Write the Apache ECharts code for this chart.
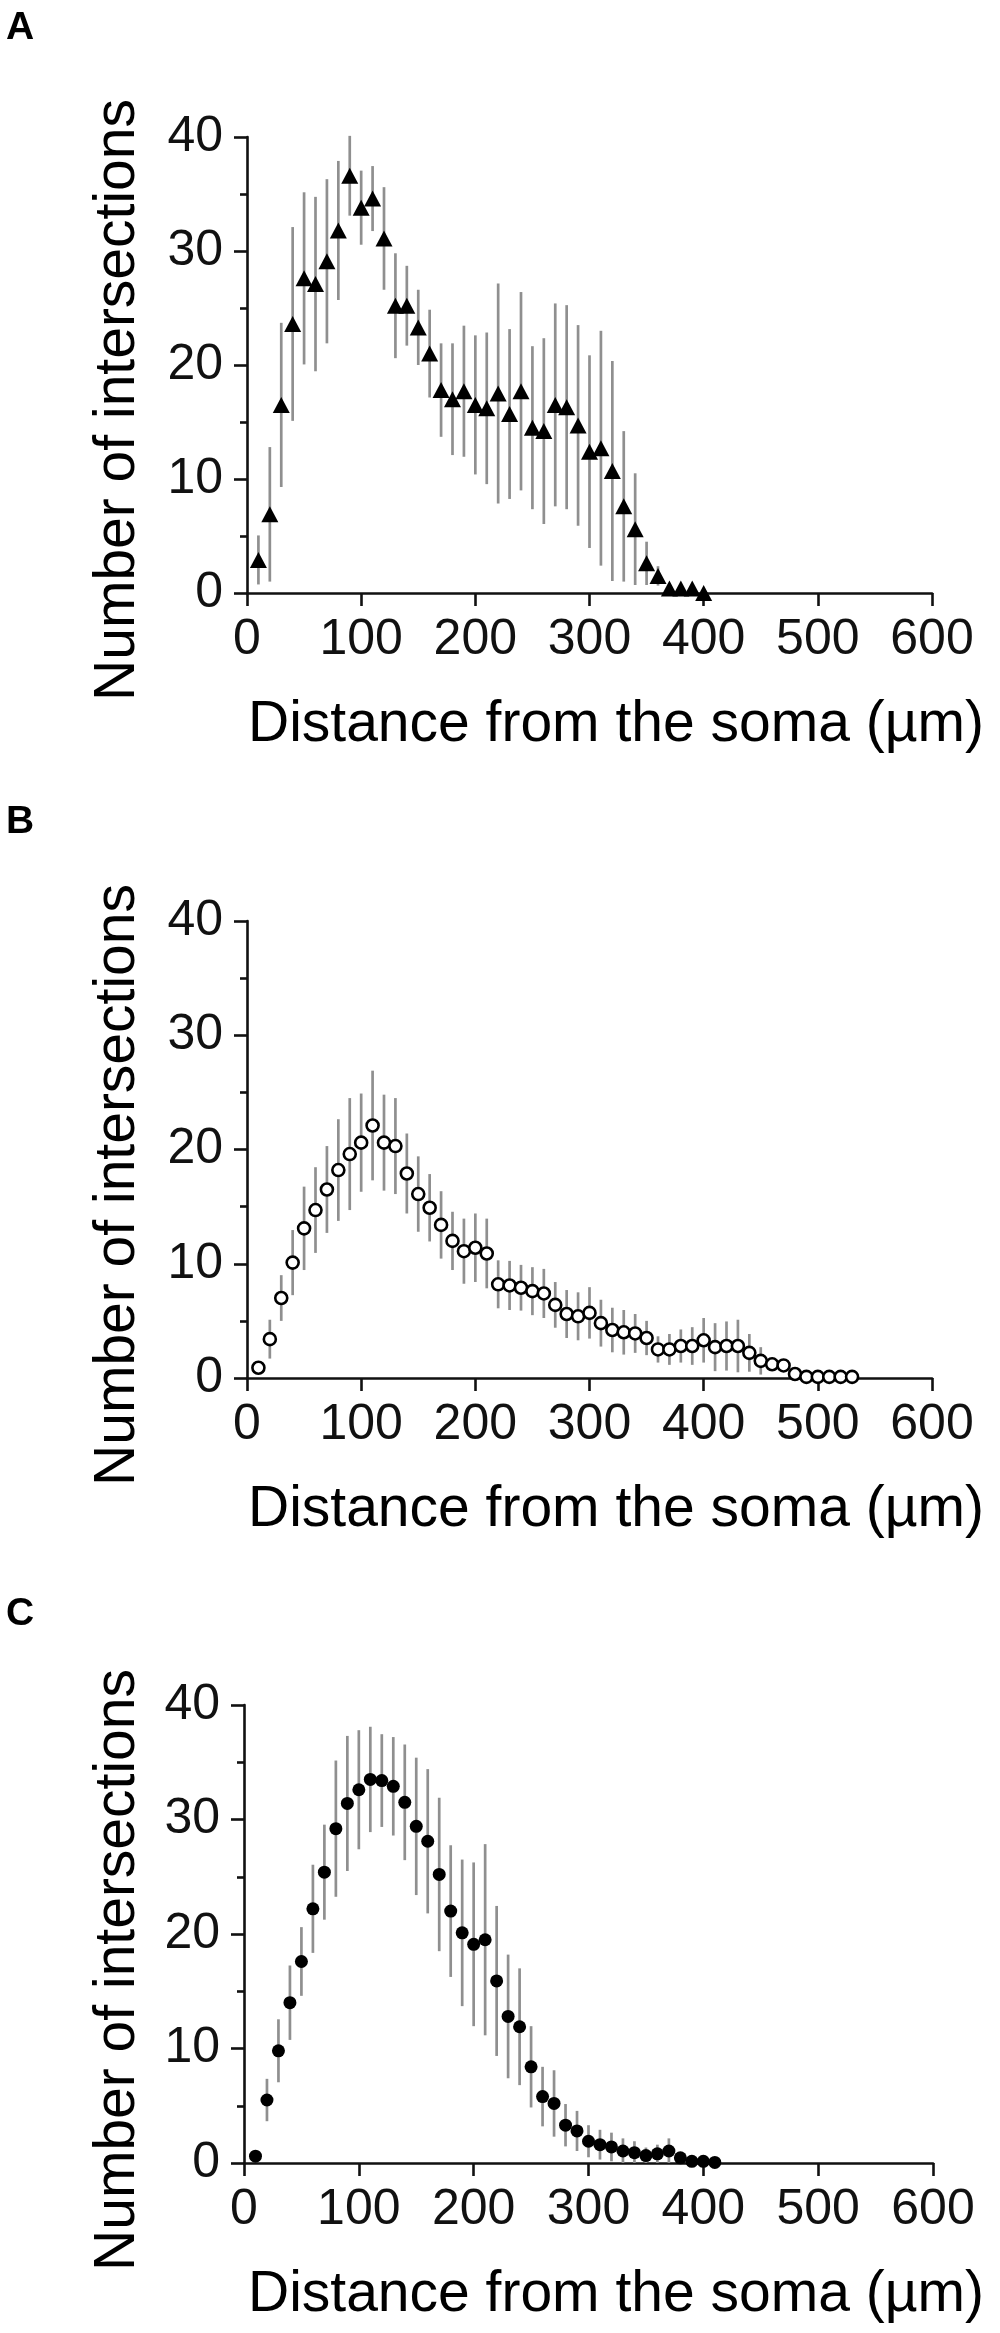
<!DOCTYPE html>
<html>
<head>
<meta charset="utf-8">
<title>Sholl analysis</title>
<script src="https://cdn.jsdelivr.net/npm/echarts/dist/echarts.min.js"></script>
<style>
  html, body { margin: 0; padding: 0; background: #fff; }
  #chart { width: 1000px; height: 2333px; }
</style>
</head>
<body>
<div id="chart"></div>
<script>
// distances from the soma (µm)
const distA = [10,20,30,40,50,60,70,80,90,100,110,120,130,140,150,160,170,180,190,200,
  210,220,230,240,250,260,270,280,290,300,310,320,330,340,350,360,370,380,390,400];
const meanA = [2.9,6.9,16.5,23.6,27.6,27.1,29.1,31.8,36.6,33.8,34.6,31.1,25.2,25.2,23.3,21.0,17.8,17.0,17.7,16.5,
  16.2,17.5,15.7,17.7,14.5,14.2,16.5,16.3,14.7,12.4,12.7,10.7,7.6,5.6,2.6,1.5,0.4,0.4,0.4,0];
const errA = [2.15,5.9,7.2,8.5,7.55,7.65,7.2,6.1,3.5,3.25,2.85,4.5,4.6,3.5,3.3,3.85,4.1,4.9,5.75,6.1,
  6.65,9.65,7.45,8.7,7.15,8.15,8.9,8.95,8.8,8.45,10.3,9.65,6.6,4.9,1.9,0.85,0,0,0,0];

const distB = [10,20,30,40,50,60,70,80,90,100,110,120,130,140,150,160,170,180,190,200,
  210,220,230,240,250,260,270,280,290,300,310,320,330,340,350,360,370,380,390,400,
  410,420,430,440,450,460,470,480,490,500,510,520,530];
const meanB = [0.9,3.4,7.0,10.1,13.1,14.7,16.5,18.2,19.6,20.6,22.1,20.6,20.3,17.9,16.1,14.9,13.4,12.0,11.1,11.4,
  10.9,8.2,8.1,7.9,7.6,7.4,6.4,5.6,5.4,5.7,4.8,4.2,4.0,3.9,3.5,2.5,2.5,2.8,2.8,3.3,
  2.7,2.8,2.8,2.2,1.5,1.2,1.1,0.35,0.1,0.1,0.1,0.1,0.1];
const errB = [0,1.7,2.0,2.85,3.65,3.75,3.8,4.45,4.9,4.3,4.8,4.2,4.2,3.5,3.3,2.95,2.95,2.55,2.85,3.0,
  3.05,2.1,2.15,2.0,2.1,2.15,2.0,2.1,2.1,2.25,2.05,1.95,1.95,1.7,1.5,1.15,1.35,1.45,1.65,1.95,
  2.1,2.15,2.3,1.65,1.2,0.5,0.4,0.2,0,0,0,0,0];

const distC = [10,20,30,40,50,60,70,80,90,100,110,120,130,140,150,160,170,180,190,200,
  210,220,230,240,250,260,270,280,290,300,310,320,330,340,350,360,370,380,390,400,410];
const meanC = [0.6,5.5,9.8,14.0,17.6,22.2,25.4,29.2,31.4,32.6,33.5,33.4,32.9,31.5,29.4,28.1,25.2,22.0,20.1,19.1,
  19.5,15.9,12.8,11.9,8.4,5.8,5.2,3.3,2.8,1.9,1.6,1.4,1.05,0.9,0.65,0.8,1.05,0.45,0.15,0.15,0.05];
const errC = [0,1.85,2.75,3.25,3.0,3.85,4.15,5.95,5.9,5.2,4.6,4.05,4.3,5.05,6.0,6.3,6.7,5.75,6.4,7.15,
  8.35,6.55,5.4,5.1,3.55,2.6,2.9,1.85,1.75,1.4,1.3,1.25,1.1,1.0,0.7,0.8,1.1,0.3,0,0,0];

const xTicks = [0, 100, 200, 300, 400, 500, 600];
const yTicks = [0, 10, 20, 30, 40];
const panelLetters = ['A', 'B', 'C'];

const FONT = "'Liberation Sans', Arial, Helvetica, sans-serif";
const panelShift = [0, 785, 1570];

const myChart = echarts.init(document.getElementById('chart'), null, { renderer: 'canvas' });

// one grid per panel
const grids = [
  { left: 247, top: 137, width: 685, height: 456 },
  { left: 247, top: 921, width: 685, height: 457 },
  { left: 244, top: 1705, width: 689, height: 458 }
];

function makeX(i) {
  return {
    type: 'value', gridIndex: i,
    min: xTicks[0], max: xTicks[xTicks.length - 1], interval: 100,
    axisLine: { lineStyle: { color: '#111', width: 2.6 } },
    axisTick: { inside: false, length: 13, lineStyle: { color: '#111', width: 2.6 } },
    axisLabel: { margin: 22, color: '#111', fontSize: 50, fontFamily: FONT },
    splitLine: { show: false }
  };
}

function makeY(i) {
  return {
    type: 'value', gridIndex: i,
    min: yTicks[0], max: yTicks[yTicks.length - 1], interval: 10,
    axisLine: { show: true, lineStyle: { color: '#111', width: 2.6 } },
    axisTick: { show: true, inside: false, length: 13, lineStyle: { color: '#111', width: 2.6 } },
    minorTick: { show: true, splitNumber: 2, length: 7, lineStyle: { color: '#111', width: 2.6 } },
    axisLabel: { margin: 24, color: '#111', fontSize: 50, fontFamily: FONT, padding: [0, 0, 8, 0] },
    splitLine: { show: false }
  };
}

// error bar drawn through the axis scales
function errBar(params, api) {
  const x = api.value(0);
  const lo = api.value(1);
  const hi = api.value(2);
  if (hi - lo <= 0) return null;
  const p1 = api.coord([x, lo]);
  const p2 = api.coord([x, hi]);
  return {
    type: 'line',
    shape: { x1: p1[0], y1: p1[1], x2: p2[0], y2: p2[1] },
    style: { stroke: '#8f8f8f', lineWidth: 2.7 }
  };
}

function barData(dist, mean, err) {
  return dist.map((d, k) => [d, Math.max(0, mean[k] - err[k]), mean[k] + err[k]]);
}
function pointData(dist, mean) {
  return dist.map((d, k) => [d, mean[k]]);
}

const panels = [
  { dist: distA, mean: meanA, err: errA, symbol: 'triangle', size: [17, 16],
    style: { color: '#000', opacity: 1 } },
  { dist: distB, mean: meanB, err: errB, symbol: 'circle', size: 12,
    style: { color: '#fff', borderColor: '#000', borderWidth: 2.6, opacity: 1 } },
  { dist: distC, mean: meanC, err: errC, symbol: 'circle', size: 13,
    style: { color: '#000', opacity: 1 } }
];

const series = [];
panels.forEach((p, i) => {
  series.push({
    type: 'custom', xAxisIndex: i, yAxisIndex: i,
    renderItem: errBar, data: barData(p.dist, p.mean, p.err),
    silent: true, z: 1
  });
  series.push({
    type: 'scatter', xAxisIndex: i, yAxisIndex: i,
    symbol: p.symbol, symbolSize: p.size,
    itemStyle: p.style, data: pointData(p.dist, p.mean),
    z: 3
  });
});

// panel letters
const titles = panelLetters.map((letter, i) => ({
  text: letter, left: 6, top: [9, 803, 1595][i], padding: 0,
  textStyle: { fontSize: 39, fontWeight: 'bold', fontFamily: FONT, color: '#000' }
}));

// axis titles
const graphics = [];
panelShift.forEach((dy) => {
  graphics.push({
    type: 'text', x: 248, y: 725 + dy,
    style: { text: 'Distance from the soma (µm)', fontSize: 57, fontFamily: FONT, fill: '#000',
      align: 'left', verticalAlign: 'middle', textAlign: 'left', textVerticalAlign: 'middle' }
  });
  graphics.push({
    type: 'text', x: 118, y: 400 + dy, rotation: Math.PI / 2,
    style: { text: 'Number of intersections', fontSize: 57, fontFamily: FONT, fill: '#000',
      align: 'center', verticalAlign: 'middle', textAlign: 'center', textVerticalAlign: 'middle' }
  });
});

const option = {
  animation: false,
  backgroundColor: '#fff',
  title: titles,
  grid: grids,
  xAxis: [makeX(0), makeX(1), makeX(2)],
  yAxis: [makeY(0), makeY(1), makeY(2)],
  series: series,
  graphic: graphics
};

myChart.setOption(option);
</script>
</body>
</html>
